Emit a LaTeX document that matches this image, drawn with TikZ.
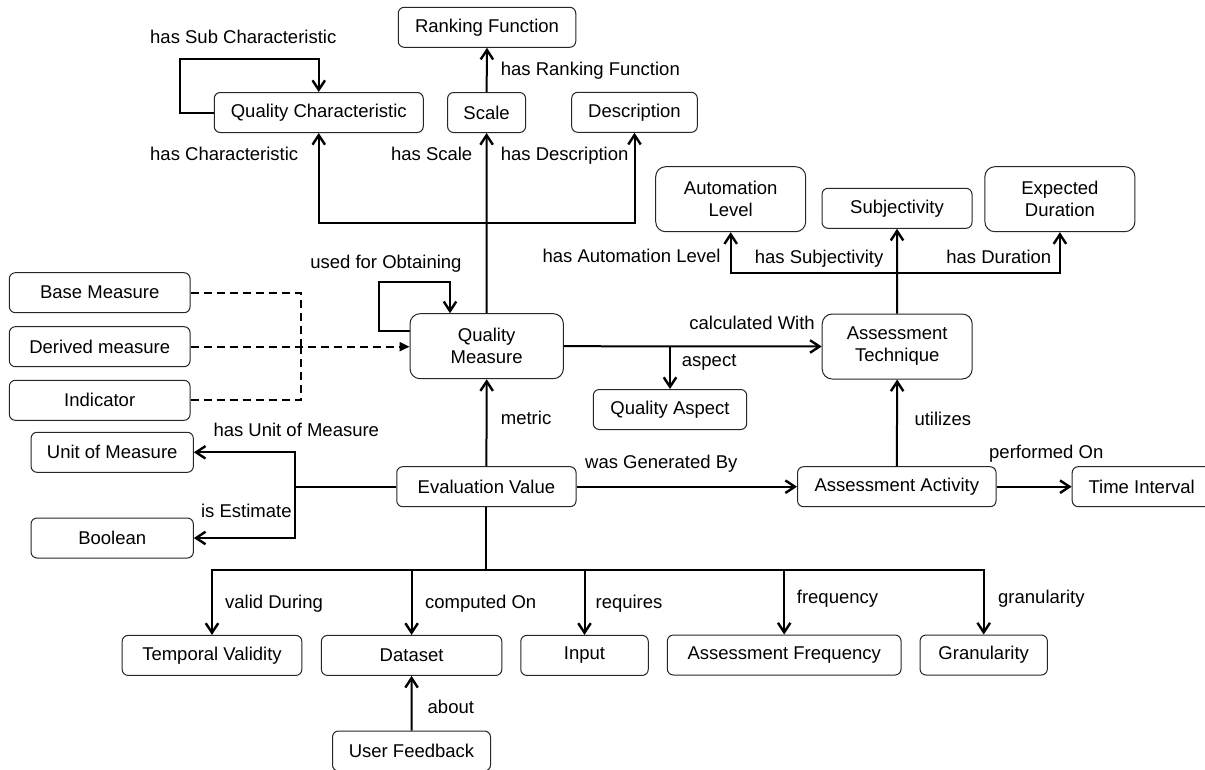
\documentclass[tikz,border=0pt]{standalone}
\usepackage{fontspec}
\setmainfont{Liberation Sans}
\usetikzlibrary{arrows.meta}

\begin{document}
\begin{tikzpicture}[x=1pt,y=-1pt,
  every node/.style={font=\fontsize{18.5}{22}\selectfont},
  box/.style={draw=black!85, line width=1pt, rounded corners=6pt, inner sep=0pt,
              align=center, minimum height=40pt},
  tall/.style={box, rounded corners=10pt, minimum height=65pt},
  link/.style={line width=2pt},
  arr/.style={line width=2pt, -{Straight Barb[length=9.5pt,width=12.5pt,line width=2.4pt]}},
  dashlink/.style={line width=2pt, dash pattern=on 8pt off 5pt},
  lbl/.style={inner sep=0pt}
]
\useasboundingbox (0,0) rectangle (1205,769);
\fill[white] (0,0) rectangle (1205,769);

% ---------- classes ----------
\node[box, minimum width=177.5pt] (rf)   at (487,27.3)    {Ranking Function};
\node[box, minimum width=209pt]   (qc)   at (318.75,112.5) {Quality Characteristic};
\node[box, minimum width=78pt]    (sc)   at (486.6,112.5)  {Scale};
\node[box, minimum width=125.6pt] (desc) at (634.5,112.3)  {Description};

\node[tall, minimum width=150pt]  (al)   at (730.7,199.2)  {Automation\\Level};
\node[box,  minimum width=150pt]  (subj) at (897,208.3)    {Subjectivity};
\node[tall, minimum width=150pt]  (ed)   at (1059.9,199.2) {Expected\\Duration};

\node[tall, minimum width=153.3pt] (qm)  at (486.7,346.2)  {Quality\\Measure};
\node[tall, minimum width=150pt]   (at)  at (897.2,346.5)  {Assessment\\Technique};
\node[box,  minimum width=153.4pt] (qa)  at (670,409.5)    {Quality Aspect};

\node[box, minimum width=180.7pt] (bm)  at (99.7,292.7)  {Base Measure};
\node[box, minimum width=180.7pt] (dm)  at (99.7,346.7)  {Derived measure};
\node[box, minimum width=180.7pt] (ind) at (99.7,400.3)  {Indicator};
\node[box, minimum width=162.3pt] (uom) at (112.2,452.3) {Unit of Measure};
\node[box, minimum width=162.3pt] (bool) at (112.2,538)  {Boolean};

\node[box, minimum width=179.3pt] (ev)  at (486.4,486.7)  {Evaluation Value};
\node[box, minimum width=198.5pt] (aa)  at (896.8,486.7)  {Assessment Activity};
\node[box, minimum width=139pt]   (ti)  at (1141.7,486.7) {Time Interval};

\node[box, minimum width=179.7pt] (tv)   at (212,655.4)   {Temporal Validity};
\node[box, minimum width=180.4pt] (ds)   at (411.6,655.4) {Dataset};
\node[box, minimum width=127.5pt] (inp)  at (584.5,655.4) {Input};
\node[box, minimum width=233.7pt] (af)   at (784.2,655)   {Assessment Frequency};
\node[box, minimum width=127.3pt] (gran) at (983.7,655)   {Granularity};
\node[box, minimum width=158pt]   (uf)   at (411.5,751)   {User Feedback};

% ---------- helper points ----------
\coordinate (topbus) at (0,222.7);
\coordinate (atbus)  at (0,272.7);
\coordinate (botbus) at (0,570);
\coordinate (j1) at (qm.north |- topbus);
\coordinate (j2) at (at.north |- atbus);
\coordinate (j3) at (295,486.7);
\coordinate (j4) at (ev.south |- botbus);
\coordinate (ja) at (670,346.2);
\coordinate (dj) at (300.7,346.7);
\coordinate (qcloop) at (180.4,59);
\coordinate (qmloop) at (379,281.7);

% ---------- connectors ----------
% self relations
\draw[arr] (qc.west) -| (qcloop) -| (qc.north);
\draw[arr] ([yshift=15.5pt]qm.west) -| (qmloop) -| ([xshift=-36.7pt]qm.north);

% quality measure upwards
\draw[arr] (qm.north) -- (sc.south);
\draw[arr] (j1) -| (qc.south);
\draw[arr] (j1) -| (desc.south);
\draw[arr] (sc.north) -- (rf.south);

% assessment technique upwards
\draw[arr] (at.north) -- (subj.south);
\draw[arr] (j2) -| (al.south);
\draw[arr] (j2) -| (ed.south);

% quality measure to the right
\draw[arr] (qm.east) -- (at.west);
\draw[arr] (ja) -- (qa.north);

% measure kinds
\draw[dashlink] (bm.east) -| (dj);
\draw[dashlink] (ind.east) -| (dj);
\draw[dashlink, -{Triangle[length=10pt,width=9pt]}] (dm.east) -- (dm.east -| qm.west);

% evaluation value
\draw[arr] (ev.north) -- (qm.south);
\draw[link] (ev.west) -- (j3);
\draw[arr] (j3) |- (uom.east);
\draw[arr] (j3) |- (bool.east);
\draw[arr] (ev.east) -- (aa.west);
\draw[arr] (aa.east) -- (ti.west);
\draw[arr] (aa.north) -- (at.south);

\draw[link] (ev.south) -- (j4);
\draw[arr] (j4) -| (tv.north);
\draw[arr] (j4) -| (ds.north);
\draw[arr] (j4) -| (inp.north);
\draw[arr] (j4) -| (af.north);
\draw[arr] (j4) -| (gran.north);
\draw[arr] (uf.north) -- (ds.south);

% ---------- relation labels ----------
\node[lbl, anchor=base west] (lsub)  at (150,43.9)    {has Sub Characteristic};
\node[lbl, anchor=base west] (lchar) at (150,160.6)   {has Characteristic};
\node[lbl, anchor=base east] (lsc)   at (472.5,160.6) {has Scale};
\node[lbl, anchor=base west] (ldesc) at (500.7,160.6) {has Description};
\node[lbl, anchor=base west] (lrank) at (500.7,75.6)  {has Ranking Function};
\node[lbl, anchor=base east] (lobt)  at (461.7,268.5) {used for Obtaining};
\node[lbl, anchor=base east] (lauto) at (720.7,262.6) {has Automation Level};
\node[lbl, anchor=base west] (lsubj) at (754.6,263.3) {has Subjectivity};
\node[lbl, anchor=base east] (ldur)  at (1051.5,263.3) {has Duration};
\node[lbl, anchor=base east] (lcalc) at (815,329.9)   {calculated With};
\node[lbl, anchor=base west] (lasp)  at (681.7,366.3) {aspect};
\node[lbl, anchor=base west] (lmet)  at (500.7,424.6) {metric};
\node[lbl, anchor=base west] (luom)  at (213.3,436.6) {has Unit of Measure};
\node[lbl, anchor=base east] (lest)  at (291.8,517.3) {is Estimate};
\node[lbl, anchor=base west] (lgen)  at (585,468.3)   {was Generated By};
\node[lbl, anchor=base west] (lutil) at (914.3,425.6) {utilizes};
\node[lbl, anchor=base west] (lperf) at (989,458.3)   {performed On};
\node[lbl, anchor=base west] (lval)  at (225,608.3)   {valid During};
\node[lbl, anchor=base west] (lcomp) at (425,608.3)   {computed On};
\node[lbl, anchor=base west] (lreq)  at (595.4,608.3) {requires};
\node[lbl, anchor=base west] (lfreq) at (796.7,603.6) {frequency};
\node[lbl, anchor=base west] (lgran) at (998,603.6)   {granularity};
\node[lbl, anchor=base west] (labt)  at (427.5,713.3) {about};
\end{tikzpicture}
\end{document}
